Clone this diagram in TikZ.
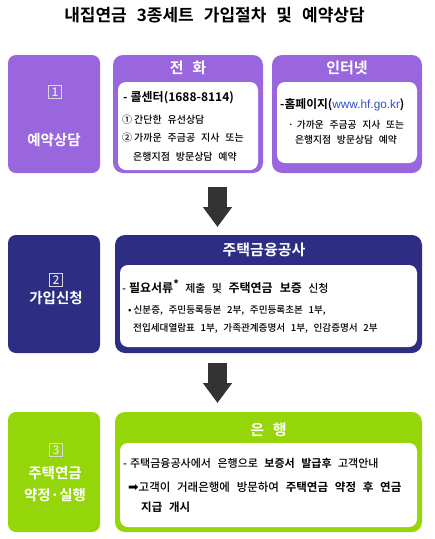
\documentclass[tikz,border=0pt]{standalone}
\usepackage{fontspec}
\setmainfont{Noto Sans CJK KR Medium}[WordSpace=2.6, BoldFont={Noto Sans CJK KR Bold}]
\newfontfamily\dejavu{DejaVu Sans}
\newfontfamily\urlfont{Liberation Sans}
\usetikzlibrary{arrows.meta}
\definecolor{purp}{HTML}{9966DD}
\definecolor{navy}{HTML}{2D2D84}
\definecolor{lgreen}{HTML}{94D60A}
\definecolor{arrgray}{HTML}{333333}
\definecolor{urlblue}{HTML}{2F4FC8}
\tikzset{
  stepbox/.style={rounded corners=8pt, minimum width=92pt, inner sep=0pt, draw=none},
  outerbox/.style={rounded corners=10pt, inner sep=0pt, draw=none},
  innerbox/.style={fill=white, rounded corners=8pt, inner sep=0pt, draw=none},
  hdr/.style={text=white, font=\bfseries\fontsize{15}{17}\selectfont, inner sep=0pt},
  lbl/.style={text=white, font=\bfseries\fontsize{14.5}{17}\selectfont, inner sep=0pt},
  numbox/.style={draw=white!85!black, line width=0.8pt, text=white!90!black, minimum size=13pt, inner sep=0pt, font=\fontsize{12}{12}\selectfont},
  txt/.style={anchor=west, inner sep=0pt, text=black},
  bigarrow/.style={draw=arrgray, line width=19pt, -{Triangle[length=20pt,width=28pt]}},
}
\begin{document}
\begin{tikzpicture}[x=1pt,y=-1pt]
\useasboundingbox (0,0) rectangle (435,539);
% title
\node[inner sep=0pt, font=\bfseries\fontsize{17}{19}\selectfont] (title) at (214.5,15) {내집연금 3종세트 가입절차 및 예약상담};

% ---- row 1
\node[stepbox, fill=purp, minimum height=118pt] (s1) at (54,114) {};
\node[numbox] (n1) at (55,92) {1};
\node[lbl] (l1) at (54,140) {예약상담};

\node[outerbox, fill=purp, minimum width=150pt, minimum height=118pt] (tel) at (188,114) {};
\node[hdr] (telh) at (188,68) {전 화};
\node[innerbox, minimum width=140pt, minimum height=88pt] (telw) at (188,126) {};
\node[txt, font=\bfseries\fontsize{12}{14}\selectfont] (t1) at (123,98) {-\hspace{3pt}콜센터(1688-8114)};
\node[txt, font=\fontsize{10}{12}\selectfont] (t2) at (122,120) {①\hspace{2pt}간단한 유선상담};
\node[txt, font=\fontsize{10}{12}\selectfont] (t3) at (122,138) {②\hspace{2pt}가까운 주금공 지사 또는};
\node[txt, font=\fontsize{10}{12}\selectfont] (t4) at (133,157) {은행지점 방문상담 예약};

\node[outerbox, fill=purp, minimum width=150pt, minimum height=118pt] (net) at (347,114) {};
\node[hdr] (neth) at (347,68) {인터넷};
\node[innerbox, minimum width=140pt, minimum height=81pt] (netw) at (347,122.5) {};
\node[txt, font=\bfseries\fontsize{11.8}{14}\selectfont] (u1) at (280,105) {-홈페이지(\textcolor{urlblue}{\urlfont\mdseries www.hf.go.kr})};
\node[txt, font=\fontsize{9.8}{12}\selectfont] (u2) at (288,125) {·\hspace{3pt}가까운 주금공 지사 또는};
\node[txt, font=\fontsize{9.8}{12}\selectfont] (u3) at (295,140) {은행지점 방문상담 예약};

% arrow 1
\coordinate (a1s) at (217.5,187);
\coordinate (a1e) at (217.5,227);
\draw[bigarrow] (a1s) -- (a1e);

% ---- row 2
\node[stepbox, fill=navy, minimum height=118pt] (s2) at (54,294) {};
\node[numbox] (n2) at (56,280) {2};
\node[lbl] (l2) at (56,298) {가입신청};

\node[outerbox, fill=navy, minimum width=307pt, minimum height=118pt] (hf) at (268.5,294) {};
\node[hdr] (hfh) at (264,250) {주택금융공사};
\node[innerbox, minimum width=297pt, minimum height=82pt] (hfw) at (268.5,306) {};
\node[txt, font=\fontsize{11}{13}\selectfont] (h1) at (122,287) {-\hspace{3pt}\textbf{\fontsize{12}{14}\selectfont 필요서류}\raisebox{0.35em}{\bfseries*} 제출 및 \textbf{\fontsize{12}{14}\selectfont 주택연금 보증} 신청};
\node[txt, font=\fontsize{9.6}{11}\selectfont] (h2) at (128,310) {•\hspace{2pt}신분증, 주민등록등본 2부, 주민등록초본 1부,};
\node[txt, font=\fontsize{9.6}{11}\selectfont] (h3) at (133,328) {전입세대열람표 1부, 가족관계증명서 1부, 인감증명서 2부};

% arrow 2
\coordinate (a2s) at (217.5,363);
\coordinate (a2e) at (217.5,403);
\draw[bigarrow] (a2s) -- (a2e);

% ---- row 3
\node[stepbox, fill=lgreen, minimum height=120pt] (s3) at (54,472) {};
\node[numbox] (n3) at (56,450) {3};
\node[lbl] (l3a) at (55,473) {주택연금};
\node[lbl] (l3b) at (55,495) {약정·실행};

\node[outerbox, fill=lgreen, minimum width=307pt, minimum height=120pt] (bank) at (268.5,472) {};
\node[hdr] (bankh) at (268.5,430) {은 행};
\node[innerbox, minimum width=297pt, minimum height=84pt] (bankw) at (268.5,485) {};
\node[txt, font=\fontsize{11}{13}\selectfont] (b1) at (123,463) {-\hspace{3pt}주택금융공사에서 은행으로 \textbf{보증서 발급후} 고객안내};
\node[txt, font=\fontsize{11.5}{13}\selectfont] (b2) at (128,487) {{\dejavu\fontsize{12.5}{13}\selectfont ➡}고객이 거래은행에 방문하여 \textbf{주택연금 약정 후 연금}};
\node[txt, font=\bfseries\fontsize{11.5}{13}\selectfont] (b3) at (141,507) {지급 개시};
\end{tikzpicture}
\end{document}
